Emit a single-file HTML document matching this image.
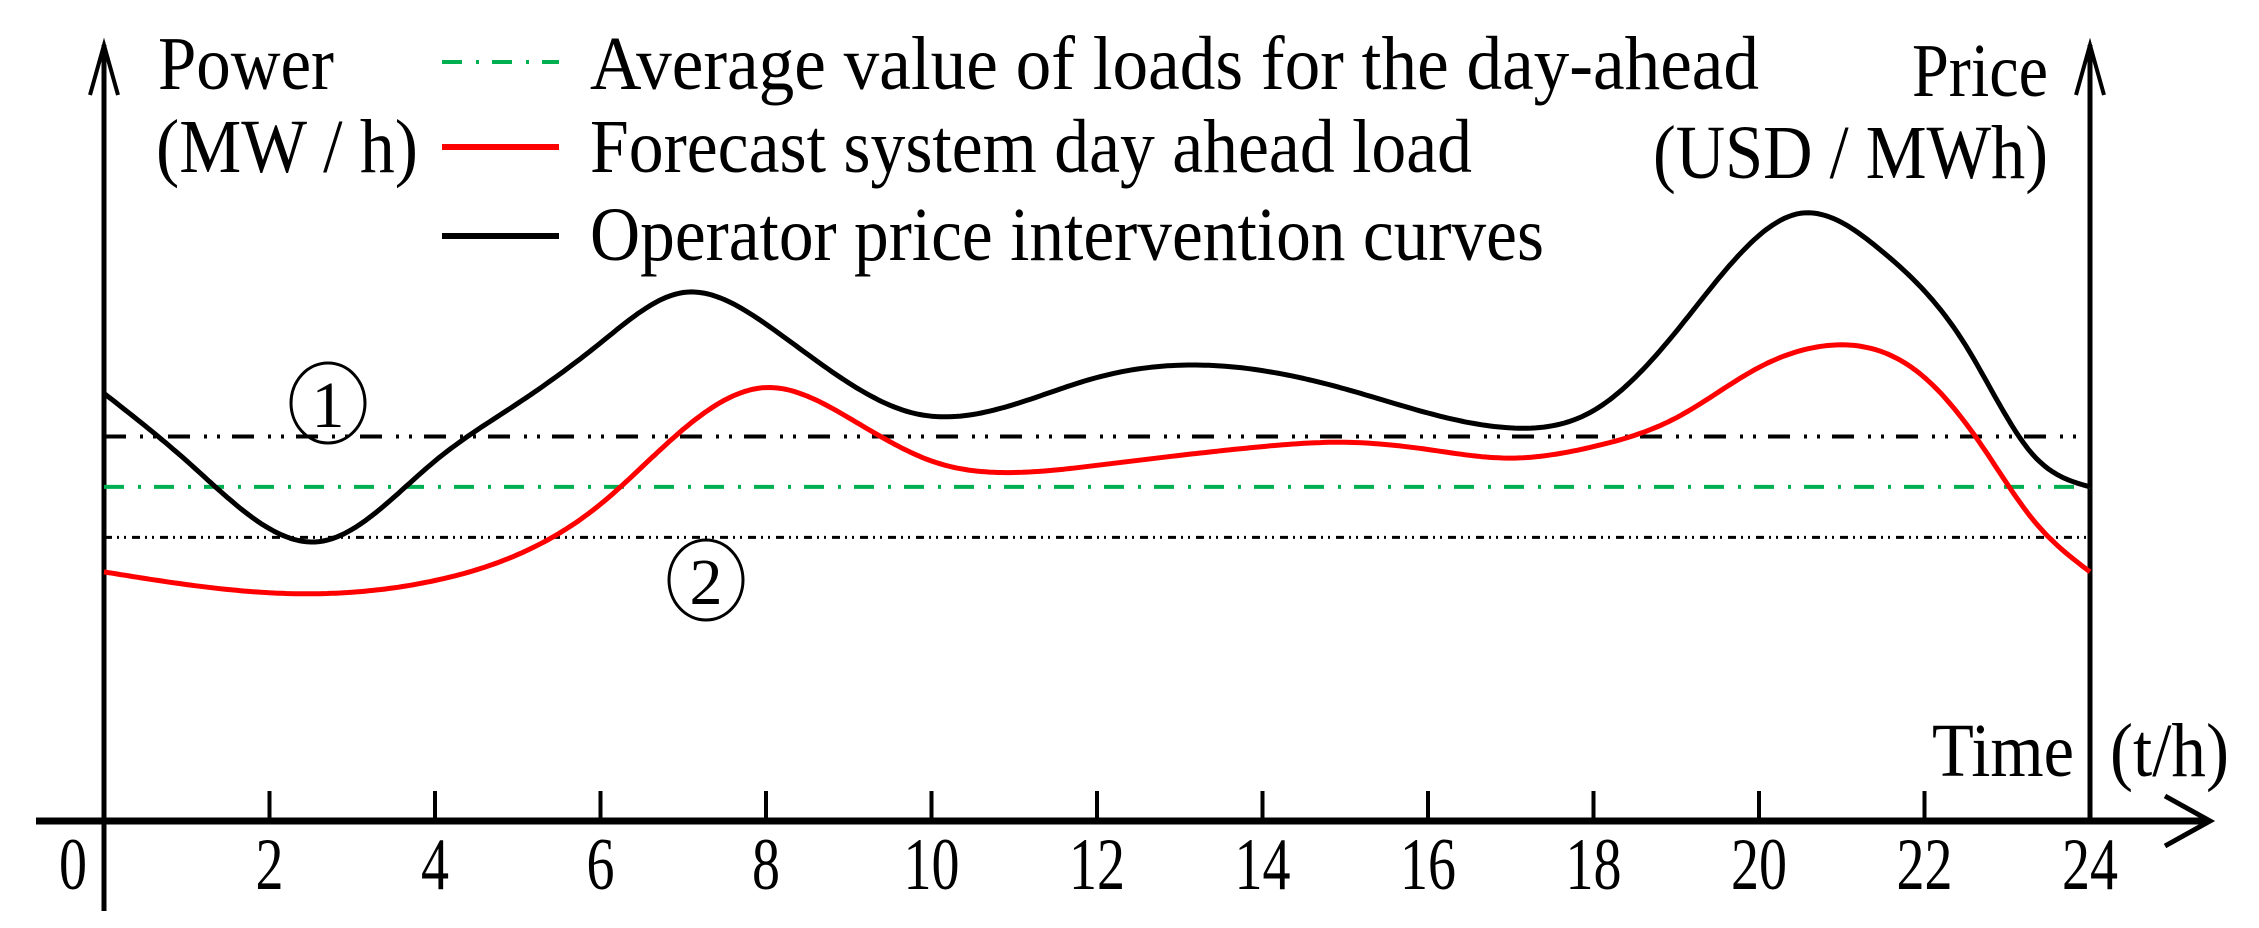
<!DOCTYPE html>
<html><head><meta charset="utf-8"><style>
html,body{margin:0;padding:0;background:#fff}
svg{display:block}
text{font-family:"Liberation Serif",serif;fill:#000}
</style></head><body>
<svg id="chart" width="2259" height="928" viewBox="0 0 2259 928" xmlns="http://www.w3.org/2000/svg">
<g id="axes"></g>
<g id="series"></g>
<g id="labels"></g>
</svg>
<script>
// ---- data ----
const hours = [0,2,4,6,8,10,12,14,16,18,20,22,24];
const tickLabels = ["0","2","4","6","8","10","12","14","16","18","20","22","24"];
const blackT = [0,1,2.6,4,5,6,7,8,9.8,12,13.5,15,17,18,19,20.5,21.5,22.5,23.3,24];
const blackV = [297,250,194,250,290,332,367,345,283,308,316,300,273,285,340,422,395,330,255,232];
const redT = [0,2.2,4,5,6,7,8,9,10,11,12,14,15,16,17,18,19,20,20.8,22,22.7,23.3,24];
const redV = [173,158,167,185,220,272,301,280,250,242,247,260,263,258,252,260,280,315,330,308,260,210,173];
const upperLevel = [267];
const avgLevel = [232];
const lowerLevel = [197];

// ---- scales ----
const X0=104, X1=2090, Y0=821, K=1.44;
const xs = t => X0 + (X1-X0)*t/24;
const ys = v => Y0 - v*K;
const NS="http://www.w3.org/2000/svg";
function mk(tag, parent, attrs){const e=document.createElementNS(NS,tag);for(const k in attrs)e.setAttribute(k,attrs[k]);parent.appendChild(e);return e;}
const axes=document.getElementById('axes'), series=document.getElementById('series'), labels=document.getElementById('labels');

let e;
e=mk('line',axes,{x1:X0,y1:Y0+90,x2:X0,y2:45,stroke:'#000','stroke-width':5});


e=mk('polyline',axes,{points:`${X0-14},95 ${X0},45 ${X0+14},95`,fill:'none',stroke:'#000','stroke-width':4});


e=mk('line',axes,{x1:X1,y1:Y0,x2:X1,y2:45,stroke:'#000','stroke-width':5});


e=mk('polyline',axes,{points:`${X1-14},95 ${X1},45 ${X1+14},95`,fill:'none',stroke:'#000','stroke-width':4});


e=mk('line',axes,{x1:36,y1:Y0,x2:2205,y2:Y0,stroke:'#000','stroke-width':7});


e=mk('polyline',axes,{points:`2165,796 2210,${Y0} 2165,846`,fill:'none',stroke:'#000','stroke-width':5});


hours.forEach((h,i)=>{
  if(h>0 && h<24){
    const t=mk('line',axes,{x1:xs(h),y1:Y0,x2:xs(h),y2:Y0-30,stroke:'#000','stroke-width':4});
    
    
  }
  const cx = h===0 ? 73 : xs(h);
  const w = tickLabels[i].length*28;
  const tl=mk('text',axes,{x:cx-w/2,y:889,'font-size':74,textLength:w,lengthAdjust:'spacingAndGlyphs'});
  tl.textContent=tickLabels[i];
  
  
});

function hline(v,color,dash,w,name){
  const l=mk('line',series,{x1:X0,y1:ys(v),x2:X1,y2:ys(v),stroke:color,'stroke-width':w,'stroke-dasharray':dash});
  
  
}
hline(upperLevel[0],'#000','22 14 3 10 3 12',4,'upper-threshold-line');
hline(avgLevel[0],'#00b050','20 14 3 13',4,'average-load-line');
hline(lowerLevel[0],'#000','8 5 2 5 2 6',3,'lower-threshold-line');

function spline(T,V){
  const n=T.length, h=[], a=[], l=[1], mu=[0], z=[0], c=new Array(n).fill(0), b=[], d=[];
  for(let i=0;i<n-1;i++) h.push(T[i+1]-T[i]);
  for(let i=1;i<n-1;i++) a[i]=3/h[i]*(V[i+1]-V[i])-3/h[i-1]*(V[i]-V[i-1]);
  for(let i=1;i<n-1;i++){l[i]=2*(T[i+1]-T[i-1])-h[i-1]*mu[i-1];mu[i]=h[i]/l[i];z[i]=(a[i]-h[i-1]*z[i-1])/l[i];}
  for(let j=n-2;j>=0;j--){c[j]=(j<n-1?z[j]||0:0)-mu[j]*c[j+1];b[j]=(V[j+1]-V[j])/h[j]-h[j]*(c[j+1]+2*c[j])/3;d[j]=(c[j+1]-c[j])/(3*h[j]);}
  let pts=[];
  for(let t=T[0];t<=T[n-1]+1e-9;t+=0.05){
    let j=0; while(j<n-2 && t>T[j+1]) j++;
    const dt=t-T[j];
    const v=V[j]+b[j]*dt+c[j]*dt*dt+d[j]*dt*dt*dt;
    pts.push(xs(t).toFixed(1)+','+ys(v).toFixed(1));
  }
  return 'M'+pts.join(' L');
}
e=mk('path',series,{d:spline(redT,redV),fill:'none',stroke:'#ff0000','stroke-width':5,'stroke-linejoin':'round'});


e=mk('path',series,{d:spline(blackT,blackV),fill:'none',stroke:'#000','stroke-width':5,'stroke-linejoin':'round'});



function txt(s,x,y,w,name,size){
  const t=mk('text',labels,{x:x,y:y,'font-size':size||76,textLength:w,lengthAdjust:'spacingAndGlyphs'});
  t.textContent=s;
  
  
}
txt('Power',158,89,176,'left-axis-title');
txt('(MW / h)',156,172,262,'left-axis-unit');
txt('Price',1912,96,136,'right-axis-title');
txt('(USD / MWh)',1653,178,395,'right-axis-unit');
txt('Time',1932,776,142,'x-axis-title');
txt('(t/h)',2110,776,119,'x-axis-unit');

function legend(y,color,dash,label,ty,w,name){
  const l=mk('line',labels,{x1:442,y1:y,x2:559,y2:y,stroke:color,'stroke-width':dash?4:6,'stroke-dasharray':dash||'none'});
  
  
  txt(label,590,ty,w,name+'-label');
}
legend(62,'#00b050','20 14 3 13','Average value of loads for the  day-ahead',89,1169,'legend-average');
legend(147,'#ff0000',null,'Forecast system day ahead load',172,882,'legend-forecast');
legend(236,'#000',null,'Operator price intervention curves',260,954,'legend-operator');

function marker(cx,cy,s,name){
  const c=mk('ellipse',labels,{cx:cx,cy:cy,rx:37,ry:40,fill:'none',stroke:'#000','stroke-width':3});
  
  
  const t=mk('text',labels,{x:cx,y:cy+24,'font-size':66,'text-anchor':'middle'});
  t.textContent=s;
  
  
}
marker(328,403,'1','marker-1');
marker(706,580,'2','marker-2');
</script>
</body></html>
